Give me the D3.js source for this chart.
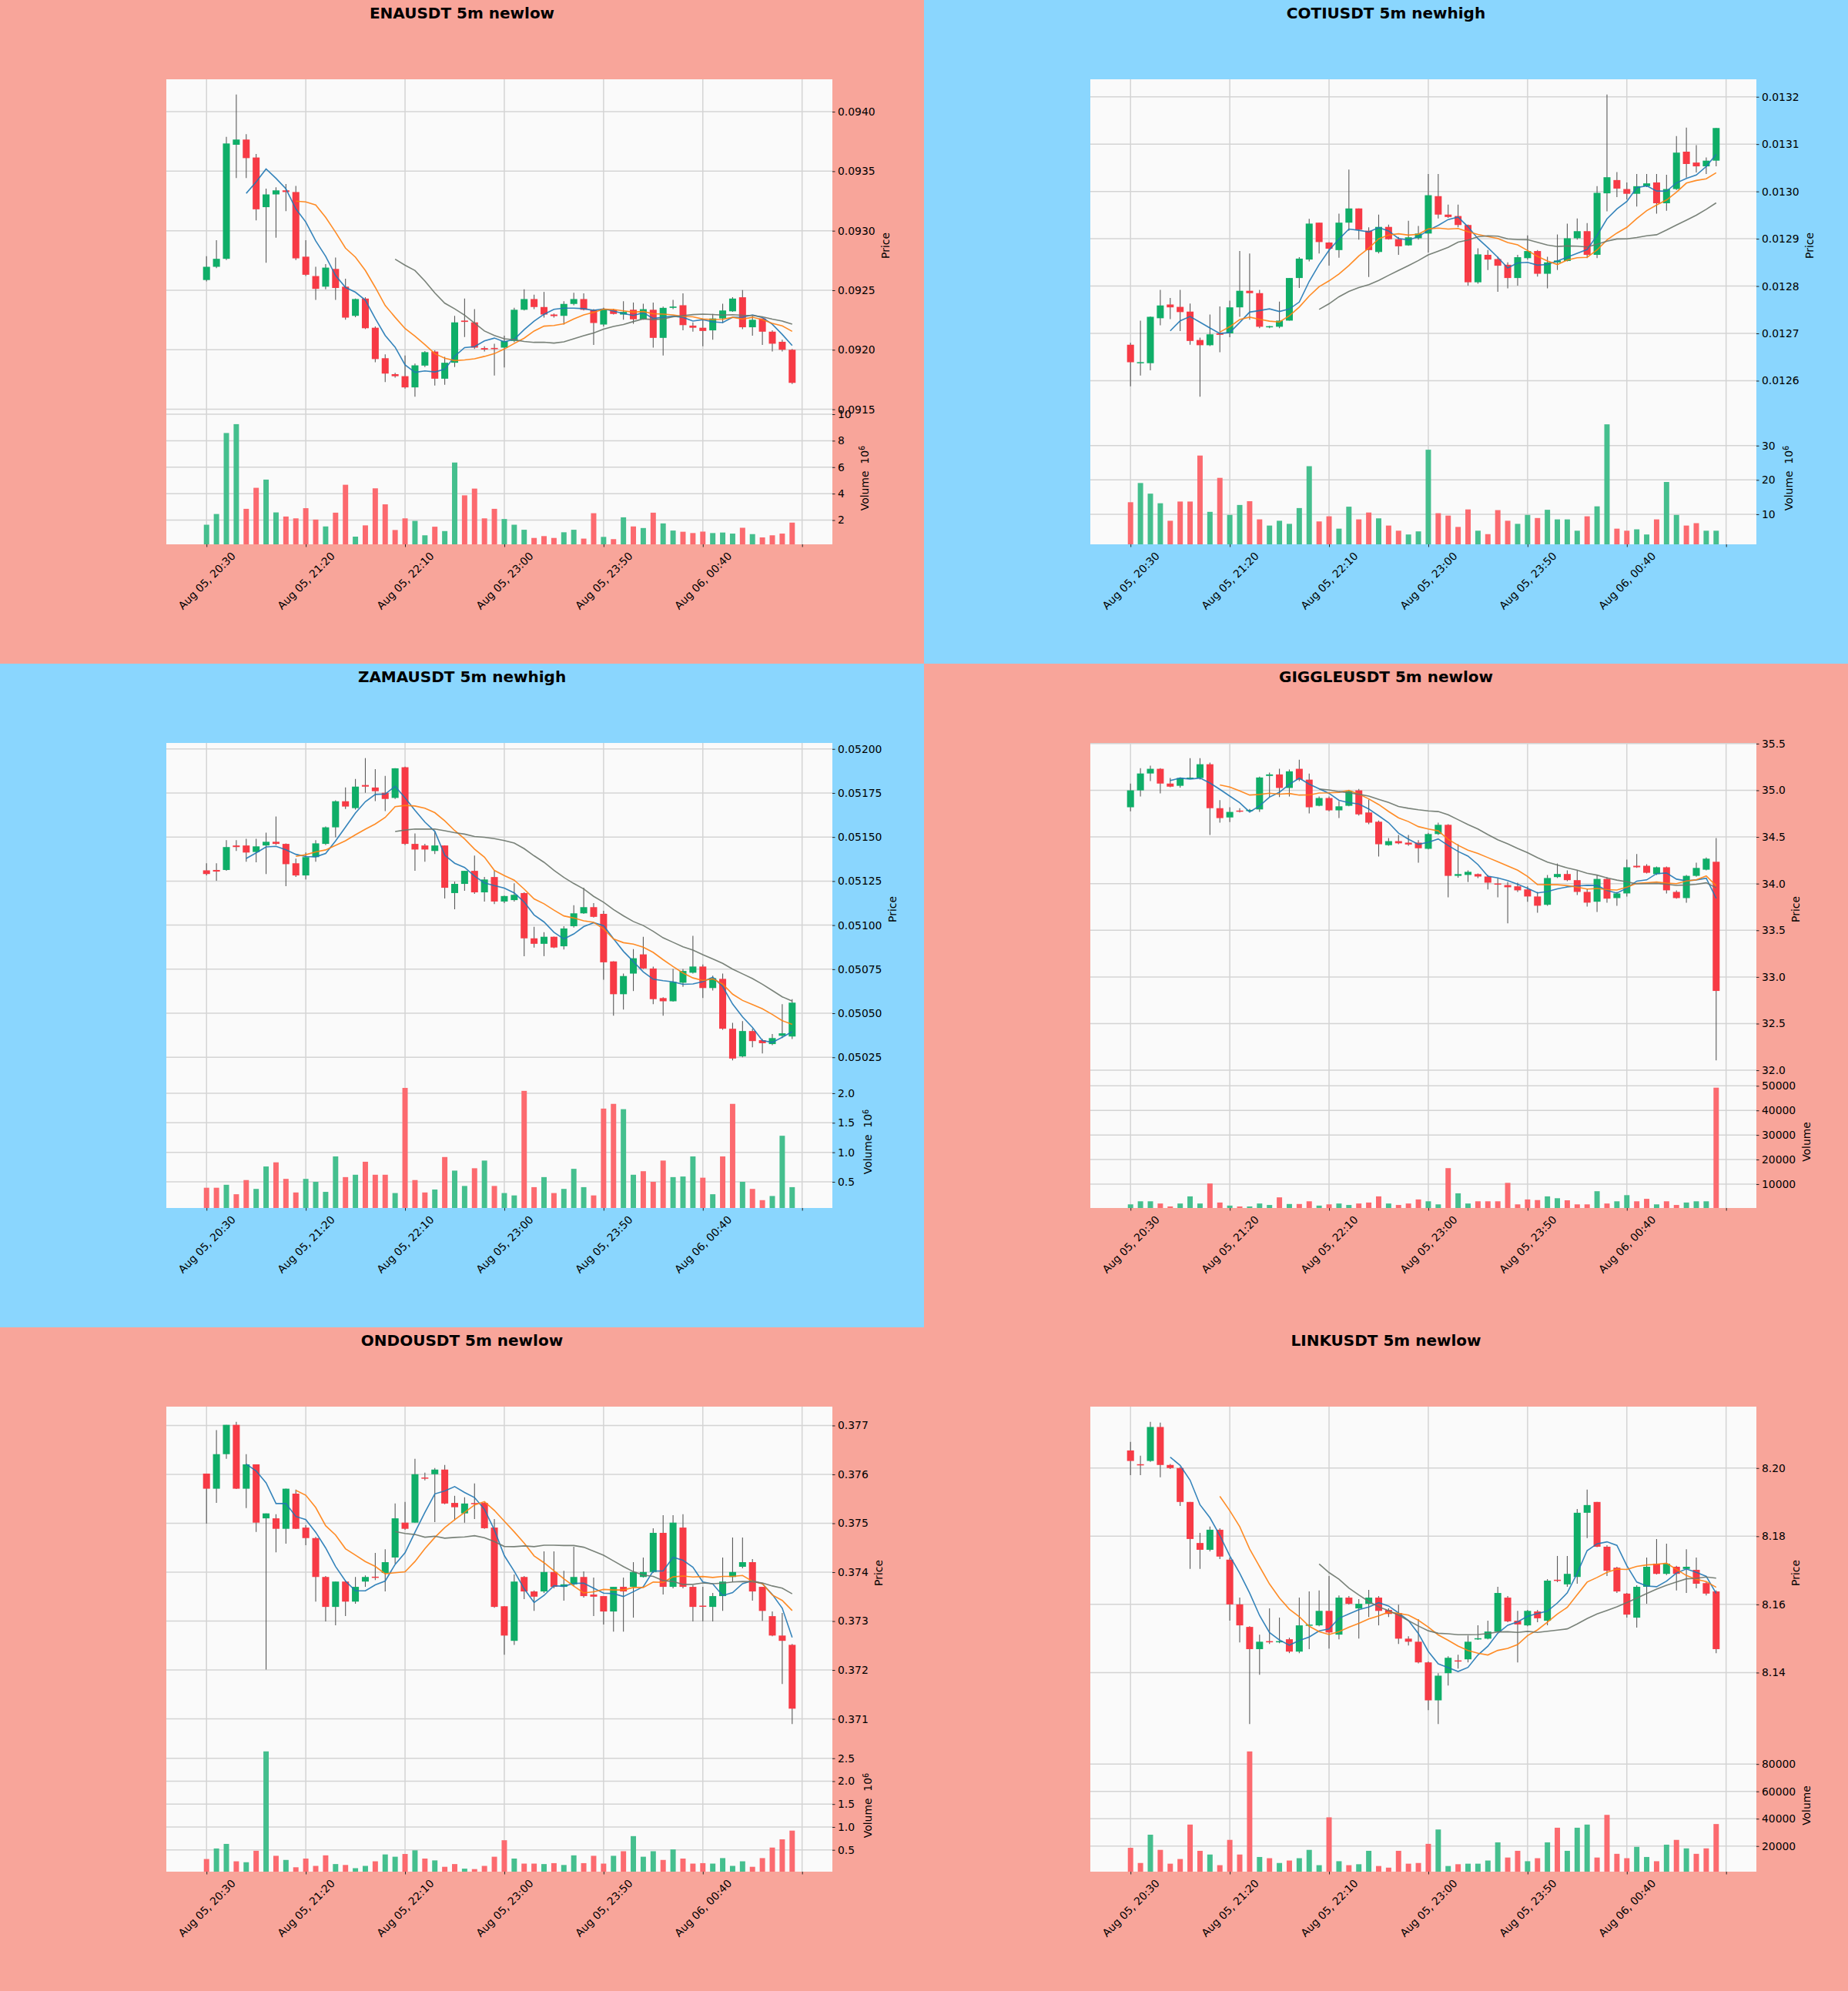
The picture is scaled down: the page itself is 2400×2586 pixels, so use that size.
<!DOCTYPE html>
<html><head><meta charset="utf-8">
<script src="https://cdn.jsdelivr.net/npm/d3@7/dist/d3.min.js"></script>
<style>body{margin:0;background:#fff} svg text{font-family:"DejaVu Sans",sans-serif;fill:#000}</style>
</head><body><svg id="c" width="2400" height="2586"></svg>
<script>
// ---------- data ----------
const tickIndex = [0,10,20,30,40,50,60];
const tickLabels = ["Aug 05, 20:30","Aug 05, 21:20","Aug 05, 22:10","Aug 05, 23:00","Aug 05, 23:50","Aug 06, 00:40",""];

const enaOpen=[0.092586,0.092697,0.092764,0.093722,0.093766,0.093615,0.093198,0.093305,0.093339,0.093325,0.092782,0.092619,0.092530,0.092679,0.092530,0.092285,0.092430,0.092185,0.091929,0.091795,0.091778,0.091684,0.091867,0.091985,0.091757,0.091891,0.092245,0.092230,0.092014,0.092014,0.092018,0.092074,0.092336,0.092426,0.092359,0.092296,0.092285,0.092385,0.092426,0.092336,0.092212,0.092336,0.092296,0.092336,0.092256,0.092336,0.092100,0.092352,0.092374,0.092203,0.092185,0.092163,0.092263,0.092323,0.092441,0.092189,0.092263,0.092152,0.092067,0.092000];
const enaHigh=[0.092786,0.092920,0.093788,0.094145,0.093811,0.093644,0.093354,0.093365,0.093392,0.093376,0.092920,0.092697,0.092719,0.092775,0.092597,0.092430,0.092441,0.092196,0.091962,0.091806,0.091951,0.091884,0.091989,0.091996,0.091940,0.092285,0.092430,0.092341,0.092029,0.092051,0.092118,0.092352,0.092508,0.092463,0.092486,0.092305,0.092408,0.092479,0.092474,0.092341,0.092352,0.092345,0.092408,0.092397,0.092386,0.092397,0.092363,0.092419,0.092474,0.092230,0.092263,0.092301,0.092386,0.092441,0.092501,0.092285,0.092263,0.092163,0.092085,0.092007];
const enaLow=[0.092575,0.092686,0.092753,0.093443,0.093443,0.093087,0.092731,0.092942,0.093165,0.092753,0.092619,0.092419,0.092508,0.092419,0.092252,0.092274,0.092174,0.091895,0.091728,0.091766,0.091673,0.091605,0.091855,0.091700,0.091706,0.091855,0.092107,0.092007,0.091985,0.091784,0.091851,0.092063,0.092330,0.092341,0.092270,0.092270,0.092212,0.092374,0.092330,0.092040,0.092196,0.092296,0.092252,0.092218,0.092252,0.092018,0.091951,0.092341,0.092163,0.092152,0.092029,0.092085,0.092225,0.092319,0.092174,0.092118,0.092040,0.091985,0.091985,0.091713];
const enaClose=[0.092697,0.092764,0.093733,0.093766,0.093610,0.093180,0.093305,0.093339,0.093325,0.092768,0.092630,0.092512,0.092690,0.092519,0.092270,0.092426,0.092181,0.091922,0.091800,0.091778,0.091684,0.091869,0.091980,0.091757,0.091891,0.092230,0.092234,0.092018,0.092002,0.092007,0.092074,0.092336,0.092426,0.092359,0.092296,0.092283,0.092385,0.092426,0.092336,0.092225,0.092341,0.092301,0.092318,0.092256,0.092341,0.092100,0.092352,0.092363,0.092207,0.092185,0.092158,0.092263,0.092330,0.092430,0.092189,0.092252,0.092152,0.092051,0.092000,0.091722];
const enaVolume=[1.65e6,2.46e6,8.58e6,9.25e6,2.85e6,4.44e6,5.06e6,2.58e6,2.27e6,2.13e6,2.90e6,2.04e6,1.52e6,2.56e6,4.67e6,0.75e6,1.60e6,4.40e6,3.19e6,1.25e6,2.13e6,1.94e6,0.85e6,1.50e6,1.17e6,6.35e6,3.87e6,4.38e6,2.13e6,2.85e6,2.08e6,1.65e6,1.27e6,0.65e6,0.79e6,0.65e6,1.08e6,1.27e6,0.60e6,2.52e6,0.73e6,0.56e6,2.21e6,1.52e6,1.40e6,2.56e6,1.75e6,1.21e6,1.12e6,1.02e6,1.13e6,1.02e6,1.06e6,0.98e6,1.42e6,0.94e6,0.69e6,0.85e6,0.98e6,1.81e6];
const enaPriceTicks=[0.0915,0.0920,0.0925,0.0930,0.0935,0.0940];
const enaVolTicks=[2e6,4e6,6e6,8e6,10e6];

const cotiOpen=[0.012676,0.012637,0.012637,0.012732,0.012761,0.012756,0.012746,0.012686,0.012675,0.012700,0.012700,0.012755,0.012790,0.012785,0.012713,0.012714,0.012727,0.012817,0.012856,0.012934,0.012892,0.012876,0.012934,0.012964,0.012917,0.012872,0.012925,0.012899,0.012886,0.012901,0.012911,0.012990,0.012951,0.012948,0.012929,0.012808,0.012866,0.012857,0.012845,0.012817,0.012859,0.012874,0.012826,0.012850,0.012853,0.012901,0.012916,0.012866,0.012996,0.013024,0.013005,0.012995,0.013011,0.013019,0.012975,0.013005,0.013084,0.013061,0.013053,0.013065];
const cotiHigh=[0.012680,0.012727,0.012736,0.012792,0.012775,0.012792,0.012763,0.012691,0.012740,0.012757,0.012769,0.012874,0.012869,0.012792,0.012716,0.012767,0.012817,0.012861,0.012942,0.012934,0.012893,0.012953,0.013046,0.012964,0.012924,0.012951,0.012930,0.012904,0.012938,0.012927,0.013037,0.013037,0.012972,0.012972,0.012930,0.012880,0.012876,0.012862,0.012850,0.012866,0.012907,0.012876,0.012862,0.012909,0.012932,0.012943,0.012933,0.013011,0.013205,0.013041,0.013019,0.013037,0.013037,0.013037,0.013035,0.013117,0.013135,0.013098,0.013072,0.013134];
const cotiLow=[0.012588,0.012611,0.012622,0.012717,0.012730,0.012705,0.012676,0.012566,0.012673,0.012660,0.012692,0.012735,0.012729,0.012711,0.012711,0.012711,0.012727,0.012796,0.012852,0.012869,0.012843,0.012860,0.012917,0.012898,0.012819,0.012869,0.012898,0.012866,0.012885,0.012898,0.012871,0.012943,0.012944,0.012924,0.012801,0.012805,0.012834,0.012788,0.012795,0.012801,0.012856,0.012820,0.012795,0.012834,0.012852,0.012898,0.012859,0.012859,0.012958,0.012988,0.012983,0.012968,0.013009,0.012953,0.012959,0.013003,0.013029,0.013040,0.013037,0.013053];
const cotiClose=[0.012639,0.012639,0.012735,0.012759,0.012755,0.012745,0.012684,0.012675,0.012698,0.012697,0.012755,0.012790,0.012785,0.012714,0.012715,0.012727,0.012817,0.012858,0.012932,0.012893,0.012879,0.012934,0.012964,0.012919,0.012876,0.012925,0.012899,0.012884,0.012903,0.012911,0.012992,0.012951,0.012946,0.012929,0.012808,0.012867,0.012856,0.012843,0.012817,0.012861,0.012874,0.012826,0.012850,0.012854,0.012901,0.012916,0.012866,0.012997,0.013030,0.013006,0.012995,0.013011,0.013017,0.012975,0.013005,0.013082,0.013058,0.013053,0.013065,0.013134];
const cotiVolume=[13.5e6,19.1e6,16.0e6,13.2e6,8.1e6,13.7e6,13.7e6,27.1e6,10.7e6,20.6e6,9.8e6,12.7e6,13.8e6,8.5e6,6.7e6,8.1e6,7.2e6,11.8e6,24.0e6,7.9e6,9.4e6,5.8e6,12.2e6,8.5e6,10.5e6,8.8e6,6.7e6,5.2e6,4.1e6,5.0e6,28.8e6,10.3e6,9.6e6,6.3e6,11.4e6,5.2e6,4.2e6,11.2e6,8.1e6,7.2e6,9.8e6,8.9e6,11.3e6,8.5e6,8.5e6,5.2e6,9.4e6,12.3e6,36.2e6,5.8e6,5.2e6,5.6e6,4.1e6,8.5e6,19.4e6,9.8e6,6.7e6,7.4e6,5.2e6,5.2e6];
const cotiPriceTicks=[0.0126,0.0127,0.0128,0.0129,0.0130,0.0131,0.0132];
const cotiVolTicks=[10e6,20e6,30e6];

const zamaOpen=[0.051311,0.051313,0.051313,0.051452,0.051452,0.051415,0.051452,0.051473,0.051461,0.051351,0.051282,0.051386,0.051461,0.051555,0.051703,0.051664,0.051795,0.051781,0.051751,0.051722,0.051896,0.051461,0.051452,0.051421,0.051452,0.051182,0.051234,0.051308,0.051186,0.051273,0.051134,0.051142,0.051182,0.050925,0.050894,0.050934,0.050880,0.050994,0.051067,0.051102,0.051064,0.050794,0.050608,0.050725,0.050834,0.050754,0.050586,0.050568,0.050673,0.050730,0.050765,0.050643,0.050695,0.050412,0.050255,0.050399,0.050347,0.050325,0.050372,0.050368];
const zamaHigh=[0.051351,0.051351,0.051482,0.051482,0.051490,0.051490,0.051525,0.051617,0.051464,0.051377,0.051412,0.051482,0.051560,0.051708,0.051781,0.051830,0.051948,0.051885,0.051847,0.051891,0.051899,0.051520,0.051461,0.051530,0.051453,0.051247,0.051309,0.051395,0.051273,0.051308,0.051168,0.051238,0.051186,0.050991,0.050960,0.050935,0.050994,0.051113,0.051212,0.051125,0.051081,0.050795,0.050725,0.050864,0.050934,0.050765,0.050591,0.050751,0.050751,0.050939,0.050777,0.050713,0.050725,0.050446,0.050455,0.050412,0.050354,0.050382,0.050551,0.050580];
const zamaLow=[0.051282,0.051252,0.051308,0.051421,0.051360,0.051356,0.051290,0.051455,0.051221,0.051273,0.051259,0.051360,0.051455,0.051499,0.051659,0.051656,0.051751,0.051704,0.051647,0.051716,0.051455,0.051308,0.051360,0.051403,0.051151,0.051090,0.051195,0.051177,0.051134,0.051120,0.051125,0.051134,0.050824,0.050873,0.050824,0.050869,0.050862,0.050986,0.051064,0.051043,0.050690,0.050486,0.050521,0.050626,0.050751,0.050551,0.050486,0.050566,0.050650,0.050725,0.050586,0.050629,0.050406,0.050232,0.050250,0.050307,0.050272,0.050319,0.050359,0.050354];
const zamaClose=[0.051290,0.051304,0.051443,0.051443,0.051412,0.051447,0.051473,0.051461,0.051346,0.051282,0.051386,0.051464,0.051555,0.051703,0.051673,0.051786,0.051786,0.051760,0.051716,0.051890,0.051461,0.051429,0.051429,0.051452,0.051212,0.051234,0.051308,0.051186,0.051259,0.051134,0.051165,0.051172,0.050925,0.050894,0.050934,0.050873,0.050981,0.051067,0.051102,0.051047,0.050789,0.050608,0.050711,0.050812,0.050754,0.050580,0.050568,0.050678,0.050740,0.050765,0.050643,0.050699,0.050412,0.050243,0.050399,0.050342,0.050330,0.050359,0.050386,0.050560];
const zamaVolume=[0.40e6,0.40e6,0.45e6,0.29e6,0.53e6,0.38e6,0.76e6,0.83e6,0.55e6,0.32e6,0.55e6,0.50e6,0.33e6,0.93e6,0.58e6,0.62e6,0.84e6,0.62e6,0.62e6,0.31e6,2.09e6,0.53e6,0.32e6,0.37e6,0.92e6,0.69e6,0.43e6,0.73e6,0.86e6,0.43e6,0.31e6,0.27e6,2.04e6,0.41e6,0.58e6,0.31e6,0.38e6,0.72e6,0.41e6,0.27e6,1.74e6,1.82e6,1.73e6,0.62e6,0.68e6,0.50e6,0.86e6,0.58e6,0.59e6,0.93e6,0.57e6,0.29e6,0.93e6,1.82e6,0.50e6,0.38e6,0.19e6,0.26e6,1.28e6,0.41e6];
const zamaPriceTicks=[0.05025,0.05050,0.05075,0.05100,0.05125,0.05150,0.05175,0.05200];
const zamaVolTicks=[0.5e6,1.0e6,1.5e6,2.0e6];

const gigOpen=[34.818,34.999,35.180,35.230,35.072,35.048,35.128,35.131,35.279,34.808,34.709,34.778,34.782,34.795,35.154,35.170,35.025,35.230,35.114,34.834,34.917,34.785,34.834,34.999,34.762,34.663,34.412,34.455,34.439,34.439,34.373,34.531,34.630,34.083,34.093,34.102,34.076,34.000,33.984,33.971,33.938,33.862,33.773,34.070,34.103,34.037,33.911,33.806,34.050,33.845,33.895,34.191,34.191,34.102,34.175,33.911,33.845,34.083,34.149,34.234];
const gigHigh=[35.072,35.236,35.263,35.236,35.131,35.138,35.345,35.345,35.296,34.894,34.818,34.808,34.800,35.147,35.190,35.230,35.223,35.328,35.180,34.934,34.934,34.884,35.004,35.015,34.900,34.676,34.488,34.521,34.521,34.465,34.544,34.653,34.637,34.422,34.142,34.109,34.093,34.060,34.017,34.010,33.971,33.911,34.093,34.215,34.142,34.142,33.944,34.093,34.070,33.911,34.257,34.316,34.208,34.182,34.182,33.928,34.093,34.224,34.280,34.488];
const gigLow=[34.775,34.933,35.098,34.966,35.032,35.029,35.125,35.115,34.521,34.653,34.659,34.762,34.770,34.769,34.927,34.927,34.933,35.098,34.752,34.828,34.775,34.703,34.828,34.729,34.637,34.290,34.406,34.422,34.406,34.224,34.366,34.521,33.852,34.063,34.017,34.060,33.938,33.852,33.575,33.911,33.806,33.687,33.763,34.060,34.027,33.878,33.753,33.697,33.795,33.763,33.862,34.168,34.109,34.093,33.895,33.839,33.796,34.073,34.142,32.105];
const gigClose=[34.999,35.180,35.230,35.072,35.039,35.131,35.131,35.279,34.808,34.702,34.768,34.775,34.785,35.137,35.170,35.025,35.203,35.114,34.818,34.917,34.785,34.828,34.992,34.742,34.653,34.422,34.455,34.432,34.419,34.379,34.531,34.630,34.083,34.102,34.126,34.076,34.010,33.990,33.961,33.928,33.862,33.763,34.060,34.103,34.037,33.911,33.796,34.050,33.839,33.895,34.175,34.175,34.116,34.175,33.928,33.845,34.083,34.168,34.267,32.850];
const gigVolume=[1750,3000,3000,2100,900,2100,5000,2100,10250,2500,1250,900,900,2100,1500,4600,1900,1900,3000,1250,1750,2100,1500,2100,2500,5000,2100,1500,2100,3750,3000,1750,16500,6250,2100,3000,3000,3000,10500,1750,3750,3500,5000,4250,3400,1750,1750,7100,2100,3000,5500,3000,4000,1750,3000,1500,2500,3000,3000,49250];
const gigPriceTicks=[32.0,32.5,33.0,33.5,34.0,34.5,35.0,35.5];
const gigVolTicks=[10000,20000,30000,40000,50000];

const ondoOpen=[0.376016,0.375707,0.376413,0.377013,0.375707,0.376205,0.375101,0.375101,0.374887,0.375606,0.374912,0.374697,0.373902,0.373290,0.373808,0.373398,0.373808,0.373902,0.373984,0.374300,0.375013,0.375013,0.375930,0.376003,0.376098,0.375416,0.375202,0.375410,0.375416,0.374912,0.373303,0.372596,0.373902,0.373606,0.373606,0.374003,0.373700,0.373751,0.373902,0.373543,0.373511,0.373196,0.373700,0.373700,0.373902,0.374003,0.374804,0.373700,0.374912,0.373700,0.373310,0.373290,0.373511,0.373902,0.374110,0.374205,0.373700,0.373101,0.372704,0.372514];
const ondoHigh=[0.376016,0.376905,0.377013,0.377076,0.376413,0.376205,0.375202,0.375183,0.375707,0.375688,0.374962,0.374722,0.373921,0.373808,0.373827,0.373902,0.373934,0.374394,0.374470,0.375404,0.375435,0.376319,0.376035,0.376129,0.376192,0.375562,0.375530,0.375814,0.375435,0.375088,0.373309,0.373953,0.373921,0.373625,0.374426,0.374426,0.374028,0.374520,0.374016,0.373890,0.373511,0.373700,0.373890,0.374205,0.374300,0.374899,0.375164,0.375164,0.375183,0.373732,0.373700,0.373574,0.374300,0.374710,0.374710,0.374268,0.373700,0.373196,0.373164,0.372533];
const ondoLow=[0.374994,0.375416,0.376319,0.375700,0.375309,0.374823,0.372010,0.374407,0.374584,0.374880,0.374552,0.373398,0.372994,0.372912,0.373101,0.373353,0.373700,0.373839,0.373606,0.374174,0.374868,0.375013,0.375877,0.375025,0.375391,0.375057,0.375013,0.375088,0.374886,0.373271,0.372312,0.372514,0.373448,0.373208,0.373574,0.373669,0.373416,0.373713,0.373480,0.373101,0.372931,0.372786,0.372786,0.373070,0.373890,0.373984,0.373543,0.373669,0.373669,0.372994,0.372994,0.372994,0.373208,0.373795,0.374079,0.373416,0.373006,0.372691,0.371713,0.370893];
const ondoClose=[0.375707,0.376413,0.377013,0.375707,0.376205,0.375013,0.375202,0.374887,0.375707,0.374887,0.374697,0.373902,0.373290,0.373808,0.373398,0.373700,0.373902,0.373890,0.374205,0.375101,0.374887,0.376003,0.375917,0.376098,0.375404,0.375328,0.375404,0.375395,0.374899,0.373290,0.372704,0.373808,0.373606,0.373499,0.374003,0.373700,0.373751,0.373902,0.373511,0.373499,0.373196,0.373700,0.373606,0.374003,0.374003,0.374804,0.373700,0.375013,0.373700,0.373290,0.373297,0.373511,0.373808,0.374003,0.374205,0.373606,0.373208,0.372704,0.372596,0.371209];
const ondoVolume=[0.30e6,0.53e6,0.63e6,0.25e6,0.23e6,0.48e6,2.65e6,0.37e6,0.28e6,0.12e6,0.31e6,0.15e6,0.38e6,0.19e6,0.17e6,0.10e6,0.15e6,0.25e6,0.40e6,0.35e6,0.41e6,0.49e6,0.31e6,0.27e6,0.13e6,0.19e6,0.09e6,0.08e6,0.15e6,0.35e6,0.71e6,0.31e6,0.20e6,0.20e6,0.19e6,0.21e6,0.17e6,0.38e6,0.21e6,0.37e6,0.20e6,0.37e6,0.47e6,0.80e6,0.35e6,0.47e6,0.28e6,0.51e6,0.31e6,0.20e6,0.21e6,0.20e6,0.32e6,0.15e6,0.25e6,0.13e6,0.32e6,0.55e6,0.73e6,0.92e6];
const ondoPriceTicks=[0.371,0.372,0.373,0.374,0.375,0.376,0.377];
const ondoVolTicks=[0.5e6,1.0e6,1.5e6,2.0e6,2.5e6];

const linkOpen=[8.20516,8.20100,8.20208,8.21204,8.20090,8.20000,8.19005,8.17801,8.17602,8.18190,8.17312,8.16000,8.15339,8.14688,8.14910,8.14900,8.14977,8.14615,8.15380,8.15385,8.15810,8.15113,8.16199,8.15882,8.16018,8.16199,8.15837,8.15746,8.14995,8.14905,8.14299,8.13185,8.13982,8.14350,8.14389,8.14980,8.14995,8.15204,8.16199,8.15520,8.15385,8.15792,8.15520,8.16715,8.16588,8.16805,8.18688,8.19005,8.17692,8.17077,8.16317,8.15611,8.16516,8.17195,8.16896,8.17104,8.17040,8.17014,8.16624,8.16380];
const linkHigh=[8.20769,8.20362,8.21358,8.21331,8.20118,8.20027,8.19005,8.18100,8.18281,8.18235,8.17376,8.16199,8.15357,8.15113,8.15882,8.15611,8.15023,8.16199,8.16380,8.16407,8.16833,8.16262,8.16244,8.16154,8.16425,8.16244,8.15882,8.15991,8.15068,8.15566,8.14326,8.13982,8.14480,8.14525,8.15086,8.15385,8.15520,8.16516,8.16244,8.15810,8.15837,8.15837,8.16742,8.17421,8.17421,8.18796,8.19367,8.19005,8.17738,8.17104,8.16335,8.16561,8.17376,8.17919,8.17783,8.17131,8.17620,8.17376,8.16652,8.16407];
const linkLow=[8.19792,8.19792,8.20181,8.19729,8.19973,8.18887,8.17041,8.17041,8.17557,8.17330,8.15520,8.14887,8.12488,8.13937,8.14842,8.14860,8.14570,8.14570,8.14688,8.15357,8.14706,8.14977,8.15995,8.14995,8.15629,8.15385,8.15629,8.14842,8.14796,8.14271,8.12896,8.12488,8.13620,8.14117,8.14299,8.14960,8.14977,8.15176,8.15475,8.14299,8.15357,8.15475,8.15385,8.16652,8.16516,8.16606,8.17946,8.17680,8.16833,8.16335,8.15611,8.15321,8.16018,8.16878,8.16860,8.16407,8.16335,8.16471,8.16262,8.14570];
const linkClose=[8.20208,8.20090,8.21204,8.20090,8.20000,8.19005,8.17919,8.17602,8.18190,8.17403,8.16000,8.15385,8.14688,8.14905,8.14900,8.14910,8.14615,8.15385,8.15400,8.15810,8.15176,8.16199,8.16018,8.16018,8.16199,8.15810,8.15720,8.14995,8.14905,8.14299,8.13185,8.13909,8.14434,8.14330,8.14905,8.15000,8.15204,8.16335,8.15502,8.15412,8.15810,8.15593,8.16697,8.16697,8.16896,8.18688,8.18914,8.17692,8.16986,8.16380,8.15701,8.16516,8.17104,8.16896,8.17195,8.16896,8.17104,8.16606,8.16317,8.14688];
const linkVolume=[18700,7600,28300,17200,7100,10500,35700,16500,13800,6000,24500,13800,89200,12000,11100,7600,9400,11100,17200,6000,41000,8900,6000,6700,16500,5400,4200,16500,7100,7600,21600,32100,5400,6700,7100,7100,9400,22700,11600,16500,8900,11100,22700,33400,16500,33400,35700,11600,42800,14300,11100,19400,12000,8900,21000,24500,18300,14300,18300,36100];
const linkPriceTicks=[8.14,8.16,8.18,8.20];
const linkVolTicks=[20000,40000,60000,80000];

const maPeriods=[5,10,20];

const charts=[
  {title:"ENAUSDT 5m newlow",kind:"newlow",open:enaOpen,high:enaHigh,low:enaLow,close:enaClose,volume:enaVolume,pt:enaPriceTicks,pd:4,vt:enaVolTicks,vd:0},
  {title:"COTIUSDT 5m newhigh",kind:"newhigh",open:cotiOpen,high:cotiHigh,low:cotiLow,close:cotiClose,volume:cotiVolume,pt:cotiPriceTicks,pd:4,vt:cotiVolTicks,vd:0},
  {title:"ZAMAUSDT 5m newhigh",kind:"newhigh",open:zamaOpen,high:zamaHigh,low:zamaLow,close:zamaClose,volume:zamaVolume,pt:zamaPriceTicks,pd:5,vt:zamaVolTicks,vd:1},
  {title:"GIGGLEUSDT 5m newlow",kind:"newlow",open:gigOpen,high:gigHigh,low:gigLow,close:gigClose,volume:gigVolume,pt:gigPriceTicks,pd:1,vt:gigVolTicks,vd:0},
  {title:"ONDOUSDT 5m newlow",kind:"newlow",open:ondoOpen,high:ondoHigh,low:ondoLow,close:ondoClose,volume:ondoVolume,pt:ondoPriceTicks,pd:3,vt:ondoVolTicks,vd:1},
  {title:"LINKUSDT 5m newlow",kind:"newlow",open:linkOpen,high:linkHigh,low:linkLow,close:linkClose,volume:linkVolume,pt:linkPriceTicks,pd:2,vt:linkVolTicks,vd:0}
];

// ---------- style ----------
const BG={newlow:"#F8A59A",newhigh:"#8AD6FE"};
const UP="#0fae68", DOWN="#f73a45", VUP="#45bf8e", VDOWN="#fc6a6f", WICK="#5a5a5a";
const MACOL=["#1f77b4","#ff7f0e","#6a746a"];
const GRID="#d4d4d4";
const PW=1200, PH=862;
const Lr={left:216,right:1081,pTop:103,pBot:535,vTop:535,vBot:707};
const FS=13.9;

const svg=d3.select("#c");

function sma(arr,n){return arr.map((_,i)=> i<n-1?null:d3.mean(arr.slice(i-n+1,i+1)));}

charts.forEach((ch,k)=>{
  const ox=(k%2)*PW, oy=Math.floor(k/2)*PH;
  const g=svg.append("g").attr("transform",`translate(${ox},${oy})`);
  g.append("rect").attr("width",PW).attr("height",PH).attr("fill",BG[ch.kind]);
  g.append("text").attr("x",600).attr("y",24).attr("text-anchor","middle")
    .attr("font-weight","bold").attr("font-size","20px").text(ch.title);

  const n=ch.close.length;
  const x=d3.scaleLinear().domain([-4.05,63.05]).range([Lr.left,Lr.right]);
  const step=x(1)-x(0);
  const hi=d3.max(ch.high), lo=d3.min(ch.low), pad=(hi-lo)*0.05;
  const y=d3.scaleLinear().domain([lo-pad,hi+pad]).range([Lr.pBot,Lr.pTop]);
  const vmax=d3.max(ch.volume), vmin=d3.min(ch.volume);
  const vy=d3.scaleLinear().domain([0.3*vmin,1.1*vmax]).range([Lr.vBot,Lr.vTop]);
  const vexp = vmax>=1e6 ? 6 : 0;
  const vdiv = Math.pow(10,vexp);

  g.append("rect").attr("x",Lr.left).attr("y",Lr.pTop).attr("width",Lr.right-Lr.left)
    .attr("height",Lr.vBot-Lr.pTop).attr("fill","#fafafa");

  const cid="clip"+k;
  g.append("clipPath").attr("id",cid).append("rect").attr("x",Lr.left).attr("y",Lr.pTop)
    .attr("width",Lr.right-Lr.left).attr("height",Lr.pBot-Lr.pTop);

  // grids
  const grid=g.append("g").attr("stroke",GRID).attr("stroke-width",1.5);
  tickIndex.forEach(t=>grid.append("line").attr("x1",x(t)).attr("x2",x(t)).attr("y1",Lr.pTop).attr("y2",Lr.vBot));
  const pts=ch.pt.filter(t=>t>=y.domain()[0]&&t<=y.domain()[1]);
  pts.forEach(t=>grid.append("line").attr("x1",Lr.left).attr("x2",Lr.right).attr("y1",y(t)).attr("y2",y(t)));
  const vts=ch.vt.filter(t=>t>=vy.domain()[0]&&t<=vy.domain()[1]);
  vts.forEach(t=>grid.append("line").attr("x1",Lr.left).attr("x2",Lr.right).attr("y1",vy(t)).attr("y2",vy(t)));

  const idx=d3.range(n);
  const isUp=i=>ch.close[i]>=ch.open[i];

  // volume
  const vw=step*0.54;
  g.append("g").selectAll("rect").data(idx).join("rect")
    .attr("x",i=>x(i)-vw/2).attr("width",vw)
    .attr("y",i=>vy(ch.volume[i])).attr("height",i=>Lr.vBot-vy(ch.volume[i]))
    .attr("fill",i=>isUp(i)?VUP:VDOWN);

  // candles
  const cg=g.append("g").attr("clip-path",`url(#${cid})`);
  cg.append("g").selectAll("line").data(idx).join("line")
    .attr("x1",i=>x(i)).attr("x2",i=>x(i))
    .attr("y1",i=>y(ch.high[i])).attr("y2",i=>y(ch.low[i]))
    .attr("stroke",WICK).attr("stroke-width",1.1);
  const bw=step*0.7;
  cg.append("g").selectAll("rect").data(idx).join("rect")
    .attr("x",i=>x(i)-bw/2).attr("width",bw)
    .attr("y",i=>{const a=y(Math.max(ch.open[i],ch.close[i])),b=y(Math.min(ch.open[i],ch.close[i]));return (b-a<1.5)?(a+b)/2-0.75:a;})
    .attr("height",i=>Math.max(1.5,y(Math.min(ch.open[i],ch.close[i]))-y(Math.max(ch.open[i],ch.close[i]))))
    .attr("fill",i=>isUp(i)?UP:DOWN);

  // moving averages
  maPeriods.forEach((p,j)=>{
    const m=sma(ch.close,p);
    const line=d3.line().defined(d=>d[1]!=null).x(d=>x(d[0])).y(d=>y(d[1]));
    cg.append("path").datum(m.map((v,i)=>[i,v])).attr("d",line)
      .attr("fill","none").attr("stroke",MACOL[j]).attr("stroke-width",1.6).attr("stroke-opacity",0.9);
  });

  // price axis
  const fmtP=d3.format(`.${ch.pd}f`);
  const pa=g.append("g").attr("transform",`translate(${Lr.right},0)`)
    .call(d3.axisRight(y).tickValues(pts).tickFormat(fmtP).tickSize(3.5).tickPadding(3.5));
  pa.select(".domain").remove();
  pa.selectAll("line").attr("stroke","#222");
  pa.selectAll("text").attr("font-size",FS+"px").attr("font-family","DejaVu Sans").attr("fill","#000");
  let pw=0; pa.selectAll("text").each(function(){pw=Math.max(pw,this.getComputedTextLength());});
  const plx=Lr.right+7+pw+5.6+12.9;
  g.append("text").attr("transform",`translate(${plx},${(Lr.pTop+Lr.pBot)/2}) rotate(-90)`)
    .attr("text-anchor","middle").attr("font-size",FS+"px").text("Price");

  // volume axis
  const fmtV=d=>d3.format(`.${ch.vd}f`)(d/vdiv);
  const va=g.append("g").attr("transform",`translate(${Lr.right},0)`)
    .call(d3.axisRight(vy).tickValues(vts).tickFormat(fmtV).tickSize(3.5).tickPadding(3.5));
  va.select(".domain").remove();
  va.selectAll("line").attr("stroke","#222");
  va.selectAll("text").attr("font-size",FS+"px").attr("font-family","DejaVu Sans").attr("fill","#000");
  let vwid=0; va.selectAll("text").each(function(){vwid=Math.max(vwid,this.getComputedTextLength());});
  const vlx=Lr.right+7+vwid+5.6+(vexp?16.5:12.9);
  const vl=g.append("text").attr("transform",`translate(${vlx},${(Lr.vTop+Lr.vBot)/2}) rotate(-90)`)
    .attr("text-anchor","middle").attr("font-size",FS+"px");
  if(vexp){
    vl.append("tspan").text("Volume\u00a0\u00a010");
    vl.append("tspan").attr("dy","-0.45em").attr("font-size",(FS*0.7)+"px").text(String(vexp));
  } else {
    vl.text("Volume");
  }

  // x axis
  const xa=g.append("g").attr("transform",`translate(0,${Lr.vBot})`)
    .call(d3.axisBottom(x).tickValues(tickIndex).tickFormat((d,i)=>tickLabels[i]).tickSize(3.5));
  xa.select(".domain").remove();
  xa.selectAll("line").attr("stroke","#222");
  xa.selectAll("text").attr("font-size",FS+"px").attr("font-family","DejaVu Sans").attr("fill","#000")
    .each(function(){
      const w=this.getComputedTextLength();
      const bb=(w+FS*1.164)*Math.SQRT1_2;
      d3.select(this).attr("y",null).attr("dy","0.346em").attr("text-anchor","middle")
        .attr("transform",`translate(0,${7+bb/2}) rotate(-45)`);
    });
});
</script></body></html>
